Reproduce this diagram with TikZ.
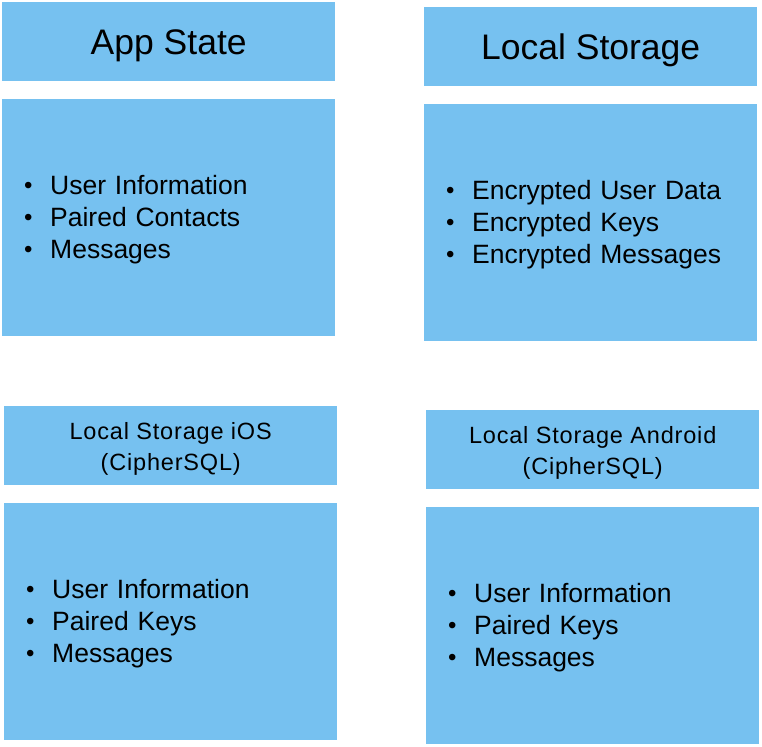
\documentclass[tikz,border=0pt]{standalone}
\usepackage{fontspec}
\setmainfont{Liberation Sans}
\usepackage{xcolor}
\usetikzlibrary{positioning}
\definecolor{sky}{HTML}{76C1F0}
\newcommand{\bul}{\makebox[26pt][l]{\raisebox{1pt}{\fontsize{24}{24}\selectfont\textbullet}}}

\begin{document}
\begin{tikzpicture}[
  x=1pt,y=-1pt,
  head/.style={fill=sky,minimum width=333pt,minimum height=79pt,inner sep=0pt,
               align=center,anchor=north west},
  bighead/.style={head,font=\fontsize{35.5}{40}\selectfont,text depth=0pt},
  smallhead/.style={head,font=\fontsize{23.5}{31}\selectfont\addfontfeature{LetterSpace=3.5}},
  body/.style={fill=sky,minimum width=333pt,minimum height=237pt,inner xsep=22pt,
               text width=289pt,align=left,font=\fontsize{26.5}{32}\selectfont}
]
\useasboundingbox (0,0) rectangle (762,746);
\node[bighead] (apphead) at (2,2) {App State};
\node[body,below=17pt of apphead] (appbody) {\bul User Information\\\bul Paired Contacts\\\bul Messages\vspace{-6pt}};
\node[bighead] (lshead) at (424,7) {Local Storage};
\node[body,below=17pt of lshead] (lsbody) {\bul Encrypted User Data\\\bul Encrypted Keys\\\bul Encrypted Messages\vspace{-6pt}};
\node[smallhead] (ioshead) at (4,406) {Local Storage iOS\\(CipherSQL)\vspace{-6pt}};
\node[body,below=17pt of ioshead] (iosbody) {\bul User Information\\\bul Paired Keys\\\bul Messages\vspace{-6pt}};
\node[smallhead] (andhead) at (426,410) {Local Storage Android\\(CipherSQL)\vspace{-6pt}};
\node[body,below=17pt of andhead] (andbody) {\bul User Information\\\bul Paired Keys\\\bul Messages\vspace{-6pt}};
\end{tikzpicture}
\end{document}
